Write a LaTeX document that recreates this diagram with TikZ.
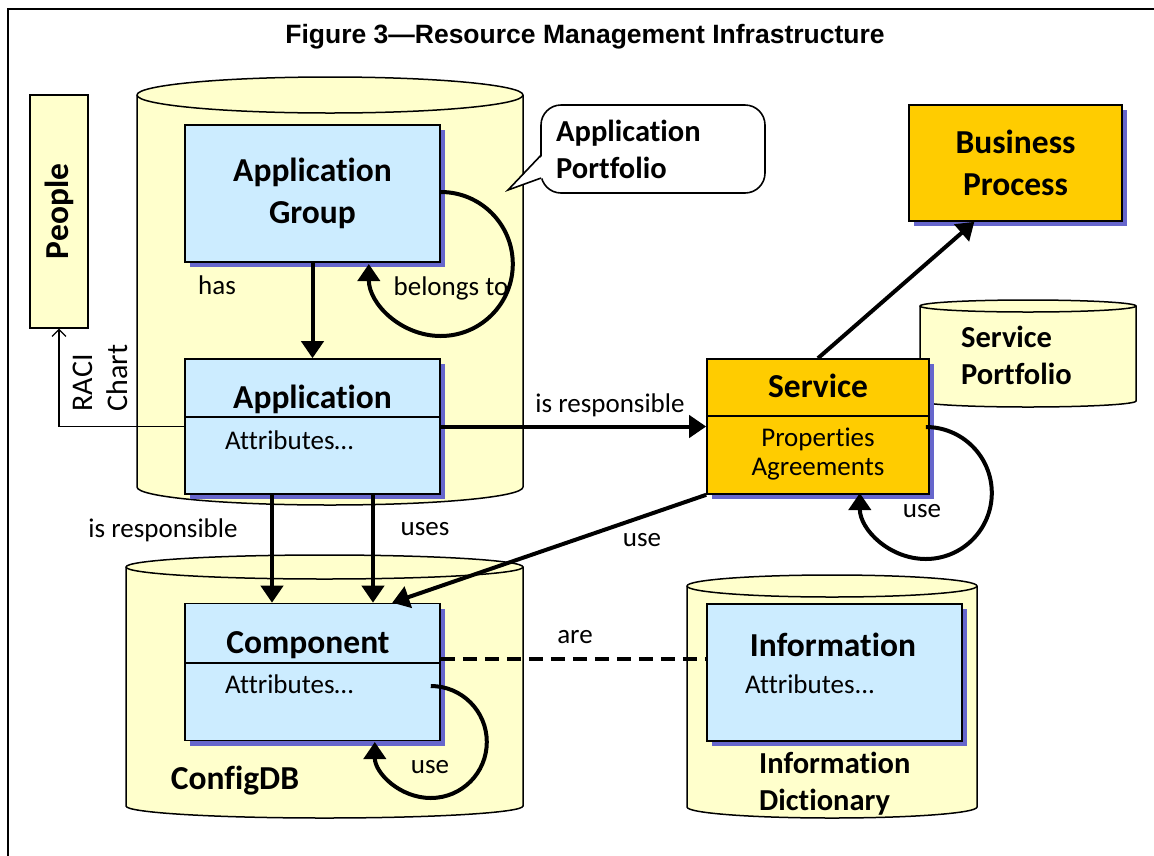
\documentclass[tikz,border=0pt]{standalone}
\usepackage{fontspec}
\setmainfont{Carlito}[Ligatures=NoCommon]
\newfontfamily\headfont{Liberation Sans}
\usetikzlibrary{arrows.meta,shadows,positioning}

\definecolor{drumyellow}{HTML}{FFFFCC}
\definecolor{boxblue}{HTML}{CCECFF}
\definecolor{svcgold}{HTML}{FFCC00}
\definecolor{shadeblue}{HTML}{6666CC}

\newcommand{\bigb}{\fontsize{33.5}{42}\selectfont\bfseries}
\newcommand{\midb}{\fontsize{30.5}{37}\selectfont\bfseries}
\newcommand{\lbl}{\fontsize{27}{29}\selectfont}

% database drum: left x, right x, top y, bottom y, half height of the ends
\newcommand{\drum}[5]{%
  \pgfmathsetmacro{\drx}{(#2-#1)/2}%
  \filldraw[drumline] (#1,#3) -- (#1,#4)
    arc[start angle=180, end angle=360, x radius=\drx pt, y radius=#5pt]
    -- (#2,#3)
    arc[start angle=0, end angle=180, x radius=\drx pt, y radius=#5pt] -- cycle;
  \draw[drumline, fill=none] (#1,#3)
    arc[start angle=180, end angle=360, x radius=\drx pt, y radius=#5pt];}

\begin{document}
\begin{tikzpicture}[x=1pt, y=1pt,
  drumline/.style={draw=black, fill=drumyellow, line width=1.5pt},
  box/.style={draw, line width=1.6pt, inner sep=0pt, align=center,
    drop shadow={shadow xshift=5pt, shadow yshift=-5pt, fill=shadeblue, opacity=1}},
  bluebox/.style={box, fill=boxblue},
  goldbox/.style={box, fill=svcgold},
  link/.style={line width=4pt, -{Triangle[length=17pt,width=22pt]}},
  tag/.style={font=\lbl, inner sep=0pt}]
\useasboundingbox (0,0) rectangle (1154,-855);

% frame and heading
\draw[line width=2pt] (8,-860) -- (8,-9) -- (1160,-9);
\node[font=\headfont\bfseries\fontsize{26.5}{30}\selectfont] (title) at (585,-37)
  {Figure 3—Resource Management Infrastructure};

% the stores
\drum{137}{523}{-95}{-487}{18}
\drum{126}{523}{-567}{-806}{12}
\drum{687}{977}{-586}{-807}{11}
\drum{920}{1136}{-306}{-401}{6}

\node[font=\bigb, inner sep=0pt] (configdb) at (235,-781) {ConfigDB};
\node[font=\midb, inner sep=0pt, align=left, anchor=west] (infodict) at (759,-784)
  {Information\\Dictionary};
\node[font=\midb, inner sep=0pt, align=left, anchor=west] (svcport) at (961,-355)
  {Service\\Portfolio};

% callout
\node[draw, line width=1.6pt, fill=white, rounded corners=20pt,
  minimum width=224pt, minimum height=88pt] (apcall) at (653,-149) {};
\fill[white] ([shift={(3,-6)}]apcall.west) -- (508,-190) -- ([shift={(3,-29)}]apcall.west) -- cycle;
\draw[line width=1.6pt] ([shift={(1,-6)}]apcall.west) -- (508,-190) -- ([shift={(1,-29)}]apcall.west);
\node[font=\midb, inner sep=0pt, align=left, anchor=west] (aptext) at (556,-149)
  {Application\\Portfolio};

% people
\node[draw, line width=1.2pt, fill=drumyellow, minimum width=58pt, minimum height=233pt]
  (people) at (59,-211.5) {};
\node[font=\bigb, rotate=90, inner sep=0pt] (peoplelbl) at (people) {People};

% boxes
\node[bluebox, font=\bigb, minimum width=255pt, minimum height=137pt] (appgroup) at (312.5,-193.5)
  {Application\\Group};
\node[bluebox, minimum width=255pt, minimum height=135pt] (app) at (312.5,-426.5) {};
\node[font=\bigb, inner sep=0pt] (apptitle) at (312.5,-399) {Application};
\node[tag, anchor=west] (appattr) at (225,-440) {Attributes…};
\draw[line width=1.2pt] (app.west |- 0,-417) -- (app.east |- 0,-417);

\node[goldbox, minimum width=222pt, minimum height=135pt] (service) at (818,-426.5) {};
\node[font=\bigb, inner sep=0pt] (svctitle) at (818,-386) {Service};
\node[tag, align=center] (svcprops) at (818,-454) {Properties\\Agreements};
\draw[line width=1.2pt] (service.west |- 0,-416) -- (service.east |- 0,-416);

\node[goldbox, font=\bigb, minimum width=213pt, minimum height=116pt] (bp) at (1015.5,-163)
  {Business\\Process};

\node[bluebox, minimum width=255pt, minimum height=137pt] (comp) at (312.5,-672) {};
\node[font=\bigb, inner sep=0pt] (comptitle) at (308,-645) {Component};
\node[tag, anchor=west] (compattr) at (225,-684) {Attributes…};
\draw[line width=1.2pt] (comp.west |- 0,-663) -- (comp.east |- 0,-663);

\node[bluebox, minimum width=255pt, minimum height=137pt] (info) at (834.5,-672.5) {};
\node[font=\bigb, inner sep=0pt] (infotitle) at (833,-645) {Information};
\node[tag, anchor=west] (infoattr) at (745,-684) {Attributes...};

% relations
\draw[line width=1.2pt, -{Straight Barb[length=7pt,width=14pt]}] (app.west) -| (people.south);
\node[font=\fontsize{30}{35}\selectfont, rotate=90, align=left, inner sep=0pt] (raci) at (100,-378)
  {RACI\\Chart};

\draw[link] (appgroup) -- (app);
\node[tag] (has) at (217,-285) {has};
\draw[link] (appgroup.east |- 0,-192) arc[start angle=90, end angle=-180, radius=72pt];
\node[tag] (belongs) at (451,-288) {belongs to};

\draw[link] (app) -- (service);
\node[tag] (resp1) at (610,-405) {is responsible};
\draw[link] (service.north) -- (bp.235);

\draw[link] ([xshift=-40.5pt]app.south) -- ([xshift=-40.5pt]comp.north);
\node[tag] (resp2) at (163,-530) {is responsible};
\draw[link] ([xshift=60.5pt]app.south) -- ([xshift=60.5pt]comp.north);
\node[tag] (uses) at (425,-529) {uses};

\draw[link] (service.south west) -- (comp.41);
\node[tag] (use1) at (642,-540) {use};
\draw[link] ([shift={(-4,-0.5)}]service.east) arc[start angle=90, end angle=-180, radius=66pt];
\node[tag] (use2) at (922,-511) {use};

\draw[link] ([shift={(-10,-14)}]comp.east) arc[start angle=90, end angle=-180, radius=56pt];
\node[tag] (use3) at (430,-767) {use};

\draw[line width=4pt, dash pattern=on 14pt off 8pt] (comp.east |- 0,-659) -- (info.west |- 0,-659);
\node[tag] (are) at (575,-637) {are};
\end{tikzpicture}
\end{document}
